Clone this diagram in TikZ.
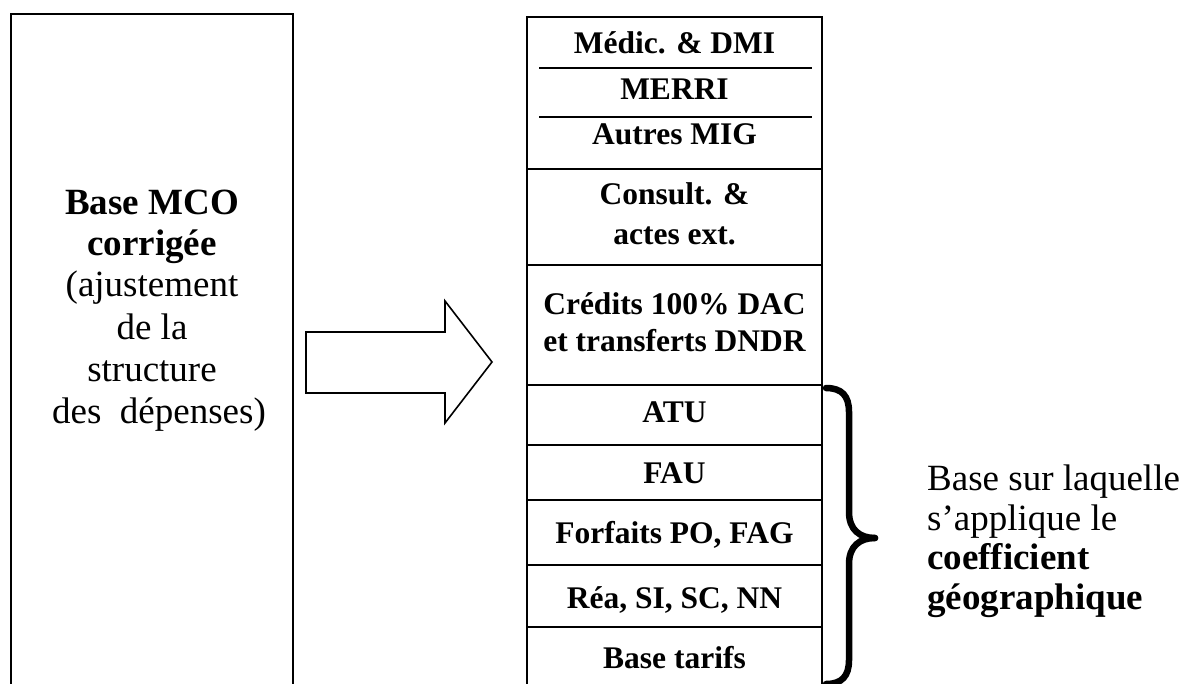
\documentclass[tikz,border=0pt]{standalone}
\usepackage{fontspec}
\setmainfont{Liberation Serif}
\begin{document}
\begin{tikzpicture}[x=1pt,y=-1pt,
  frame/.style={draw=black,line width=1.8pt},
  thin/.style={draw=black,line width=1.6pt},
  celltxt/.style={anchor=base,inner sep=0pt,font=\fontsize{31.5}{36}\selectfont\bfseries},
  lefttxt/.style={anchor=base,inner sep=0pt,font=\fontsize{37}{42}\selectfont},
  bracetxt/.style={anchor=base west,inner sep=0pt,font=\fontsize{37}{42}\selectfont}]
\useasboundingbox (0,0) rectangle (1185,684);
\fill[white] (0,0) rectangle (1185,684);
% left box (open at bottom)
\draw[frame] (11,684) -- (11,14) -- (293,14) -- (293,684);
\coordinate (lbx) at (152,0);
\node[lefttxt,font=\fontsize{37}{42}\selectfont\bfseries] (l1) at (152,215) {Base MCO};
\node[lefttxt,font=\fontsize{37}{42}\selectfont\bfseries] (l2) at (152,256) {corrigée};
\node[lefttxt] (l3) at (152,297) {(ajustement};
\node[lefttxt] (l4) at (152,339) {de la};
\node[lefttxt] (l5) at (152,381) {structure};
\node[lefttxt] (l6) at (159,423) {des\ \ dépenses)};
% block arrow
\draw[frame,line width=1.6pt,line join=miter] (306,332) -- (445,332) -- (445,301) -- (492,362) -- (445,423) -- (445,393) -- (306,393) -- cycle;
% right stack
\draw[thin] (527,684) -- (527,17) -- (822,17) -- (822,684);
\draw[thin] (539,68) -- (812,68);
\draw[thin] (539,117) -- (812,117);
\foreach \yy in {169,265,385,445,500,565,627} {\draw[thin] (526,\yy) -- (822,\yy);}
\node[celltxt] (c1) at (674.5,54) {Médic. \& DMI};
\node[celltxt] (c2) at (674.5,100) {MERRI};
\node[celltxt] (c3) at (674.5,145) {Autres MIG};
\node[celltxt] (c4) at (674.5,205) {Consult. \&};
\node[celltxt] (c5) at (674.5,245) {actes ext.};
\node[celltxt] (c6) at (674.5,315) {Crédits 100\% DAC};
\node[celltxt] (c7) at (674.5,351) {et transferts DNDR};
\node[celltxt] (c8) at (674.5,422) {ATU};
\node[celltxt] (c9) at (674.5,483) {FAU};
\node[celltxt] (c10) at (674.5,543) {Forfaits PO, FAG};
\node[celltxt] (c11) at (674.5,608) {Réa, SI, SC, NN};
\node[celltxt] (c12) at (674.5,668) {Base tarifs};
% brace
\draw[line width=6.5pt,line cap=round] (826,388) .. controls (842,388) and (849,396) .. (849,412)
  -- (849,512) .. controls (849,530) and (860,538) .. (875,538);
\draw[line width=6.5pt,line cap=round] (875,538) .. controls (860,538) and (849,546) .. (849,564)
  -- (849,660) .. controls (849,676) and (842,684) .. (826,684);
% right label
\node[bracetxt] (r1) at (927,490) {Base sur laquelle};
\node[bracetxt] (r2) at (927,530) {s’applique le};
\node[bracetxt,font=\fontsize{37}{42}\selectfont\bfseries] (r3) at (927,569) {coefficient};
\node[bracetxt,font=\fontsize{37}{42}\selectfont\bfseries] (r4) at (927,609) {géographique};
\end{tikzpicture}
\end{document}
